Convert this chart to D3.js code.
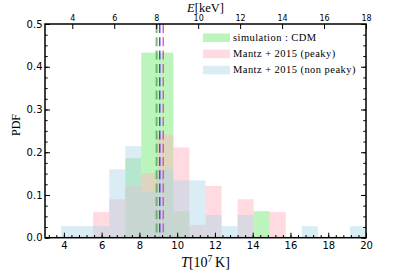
<!DOCTYPE html>
<html lang="en">
<head>
  <meta charset="UTF-8">
  <script src="https://d3js.org/d3.v7.min.js"></script>
  <title>Temperature PDF</title>
  <style>
    body { margin: 0; background: #fff; }
    .tick text { font-family: "DejaVu Sans", sans-serif; fill: #000; }
    .serif { font-family: "Liberation Serif", serif; fill: #000; }
  </style>
</head>
<body>
  <div id="chart"></div>
  <script>
    // histogram bin edges, T in 10^7 K
    const binEdges = [3.85, 4.70, 5.55, 6.40, 7.25, 8.10, 8.95, 9.80, 10.65, 11.50,
                      12.35, 13.20, 14.05, 14.90, 15.75, 16.60, 17.45, 18.30, 19.15, 20.00];
    // PDF per bin
    const cdmPdf      = [0, 0, 0, 0, 0.186, 0.433, 0.433, 0.062, 0, 0, 0, 0, 0.062, 0, 0, 0, 0, 0, 0];
    const peakyPdf    = [0, 0, 0.060, 0.090, 0.121, 0.151, 0.241, 0.211, 0.030, 0.121, 0, 0.090, 0, 0.060, 0, 0, 0, 0, 0];
    const nonPeakyPdf = [0.027, 0.027, 0.027, 0.160, 0.214, 0.107, 0.160, 0.134, 0.134, 0.053, 0.027, 0.053, 0, 0, 0, 0.027, 0, 0, 0.027];
    // vertical dashed markers
    const markerT = [8.91, 9.08, 9.26];
    const markerNames = ['cdm', 'nonPeaky', 'peaky'];
    const legendLabels = ['simulation : CDM', 'Mantz +  2015 (peaky)', 'Mantz +  2015 (non peaky)'];
    const xTicks = [4, 6, 8, 10, 12, 14, 16, 18, 20];
    const eTicks = [4, 6, 8, 10, 12, 14, 16, 18];
    const yTicks = [0, 0.1, 0.2, 0.3, 0.4, 0.5];

    const W = 407, H = 271;
    const mLeft = 45, mRight = 366, mTop = 24, mBottom = 237.7;

    const x = d3.scaleLinear().domain([3, 20]).range([mLeft, mRight]);
    const xE = d3.scaleLinear().domain([2.7, 18]).range([mLeft, mRight]);
    const y = d3.scaleLinear().domain([0, 0.5]).range([mBottom, mTop]);

    const svg = d3.select('#chart').append('svg')
      .attr('width', W).attr('height', H);

    const series = [
      { key: 'cdm', values: cdmPdf, fill: '#90ee90', op: 0.6 },
      { key: 'peaky', values: peakyPdf, fill: '#ffb6c1', op: 0.5 },
      { key: 'nonPeaky', values: nonPeakyPdf, fill: '#add8e6', op: 0.45 }
    ];

    series.forEach(s => {
      svg.append('g').selectAll('rect')
        .data(s.values.map((v, i) => ({ v, x0: binEdges[i], x1: binEdges[i + 1] })).filter(d => d.v > 0))
        .enter()
        .append('rect')
        .attr('x', d => x(d.x0))
        .attr('width', d => x(d.x1) - x(d.x0))
        .attr('y', d => y(d.v))
        .attr('height', d => y(0) - y(d.v))
        .attr('fill', s.fill)
        .attr('fill-opacity', s.op);
    });

    const lineStyle = {
      cdm: { stroke: '#4aa84a', w: 2, op: 0.75 },
      nonPeaky: { stroke: '#2020ff', w: 1.2, op: 1 },
      peaky: { stroke: '#ee3a85', w: 1.2, op: 1 }
    };
    svg.append('g').selectAll('line')
      .data(markerT.map((t, i) => ({ t, name: markerNames[i] })))
      .enter()
      .append('line')
      .attr('x1', d => x(d.t)).attr('x2', d => x(d.t))
      .attr('y1', mTop).attr('y2', mBottom)
      .attr('stroke', d => lineStyle[d.name].stroke)
      .attr('stroke-width', d => lineStyle[d.name].w)
      .attr('stroke-opacity', d => lineStyle[d.name].op)
      .attr('stroke-dasharray', '9,4.3');

    // axes, ticks pointing inward
    const minorX = d3.range(3.2, 20.01, 0.4);
    const minorY = d3.range(0, 0.501, 0.025);

    function styleAxis(g, size) {
      g.select('.domain').remove();
      g.selectAll('.tick line').attr('stroke', '#000').attr('stroke-width', 1);
      g.selectAll('.tick text').attr('font-size', size);
    }

    svg.append('g').attr('transform', `translate(0,${mBottom})`)
      .call(d3.axisBottom(x).tickValues(minorX).tickSize(-2.7).tickFormat(''))
      .call(g => styleAxis(g, 10));
    svg.append('g').attr('transform', `translate(0,${mBottom})`)
      .call(d3.axisBottom(x).tickValues(xTicks).tickSize(-5).tickPadding(4).tickFormat(d3.format('d')))
      .call(g => styleAxis(g, 10));

    svg.append('g').attr('transform', `translate(0,${mTop})`)
      .call(d3.axisTop(xE).tickValues(eTicks).tickSize(-5).tickPadding(3.5).tickFormat(d3.format('d')))
      .call(g => styleAxis(g, 8));

    svg.append('g').attr('transform', `translate(${mLeft},0)`)
      .call(d3.axisLeft(y).tickValues(minorY).tickSize(-2.7).tickFormat(''))
      .call(g => styleAxis(g, 10));
    svg.append('g').attr('transform', `translate(${mLeft},0)`)
      .call(d3.axisLeft(y).tickValues(yTicks).tickSize(-5).tickPadding(2.5).tickFormat(d3.format('.1f')))
      .call(g => styleAxis(g, 10));

    svg.append('g').attr('transform', `translate(${mRight},0)`)
      .call(d3.axisRight(y).tickValues(minorY).tickSize(-2.7).tickFormat(''))
      .call(g => styleAxis(g, 10));
    svg.append('g').attr('transform', `translate(${mRight},0)`)
      .call(d3.axisRight(y).tickValues(yTicks).tickSize(-5).tickFormat(''))
      .call(g => styleAxis(g, 10));

    svg.append('rect')
      .attr('x', mLeft).attr('y', mTop)
      .attr('width', mRight - mLeft).attr('height', mBottom - mTop)
      .attr('fill', 'none').attr('stroke', '#000').attr('stroke-width', 1.5);

    // legend
    const legend = svg.append('g');
    series.forEach((s, i) => {
      legend.append('rect')
        .attr('x', 203).attr('y', 33.4 + i * 16.2)
        .attr('width', 27).attr('height', 8.6)
        .attr('fill', s.fill).attr('fill-opacity', s.op);
      legend.append('text')
        .attr('class', 'serif')
        .attr('x', 233).attr('y', 41 + i * 16.2)
        .attr('font-size', 10.5)
        .attr('letter-spacing', 0.45)
        .text(legendLabels[i]);
    });

    // axis labels
    const xl = svg.append('text').attr('class', 'serif')
      .attr('x', (mLeft + mRight) / 2).attr('y', 267)
      .attr('text-anchor', 'middle').attr('font-size', 14);
    xl.append('tspan').attr('font-style', 'italic').text('T');
    xl.append('tspan').text('[10');
    xl.append('tspan').attr('font-size', 9.5).attr('dy', -5).text('7');
    xl.append('tspan').attr('dy', 5).text('\u2009K]');

    const el = svg.append('text').attr('class', 'serif')
      .attr('x', (mLeft + mRight) / 2).attr('y', 11.5)
      .attr('text-anchor', 'middle').attr('font-size', 12.5);
    el.append('tspan').attr('font-style', 'italic').text('E');
    el.append('tspan').text('[keV]');

    svg.append('text').attr('class', 'serif')
      .attr('transform', 'translate(19.5,125) rotate(-90)')
      .attr('text-anchor', 'middle').attr('font-size', 12)
      .text('PDF');
  </script>
</body>
</html>
